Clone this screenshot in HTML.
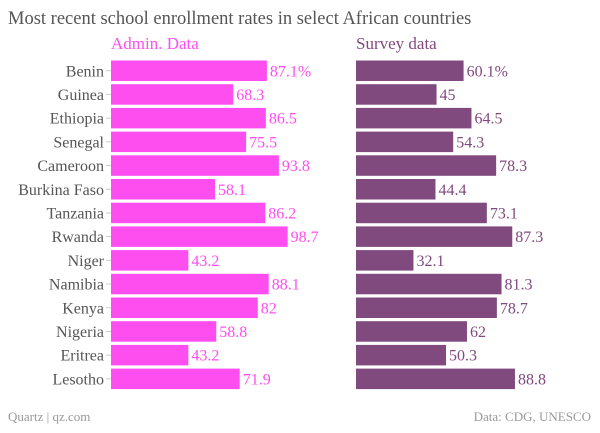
<!DOCTYPE html>
<html><head><meta charset="utf-8"><style>
body{margin:0;background:#fff;width:600px;height:428px;overflow:hidden;font-family:"Liberation Serif",serif}
</style></head><body>
<svg width="600" height="428" id="c">
<text x="8" y="24" font-size="18.5" fill="#555">Most recent school enrollment rates in select African countries</text>
<text x="111" y="49" font-size="17" fill="#ff4ef0">Admin. Data</text>
<text x="356" y="49" font-size="17" fill="#804a7e">Survey data</text>
<text x="8" y="421" font-size="13" fill="#999">Quartz | qz.com</text>
<text x="591" y="421" font-size="13" fill="#999" text-anchor="end">Data: CDG, UNESCO</text>
</svg>
<script>
const countries=["Benin","Guinea","Ethiopia","Senegal","Cameroon","Burkina Faso","Tanzania","Rwanda","Niger","Namibia","Kenya","Nigeria","Eritrea","Lesotho"];
const adminValues=[87.1,68.3,86.5,75.5,93.8,58.1,86.2,98.7,43.2,88.1,82,58.8,43.2,71.9];
const surveyValues=[60.1,45,64.5,54.3,78.3,44.4,73.1,87.3,32.1,81.3,78.7,62,50.3,88.8];
const svg=document.getElementById('c');const NS='http://www.w3.org/2000/svg';
const k=1.79;const y0=60.5,step=23.7,bh=20.5;
function xs(v){return v*k;}
function yr(i){return y0+i*step;}
function mk(t,a){const e=document.createElementNS(NS,t);for(const n in a)e.setAttribute(n,a[n]);svg.appendChild(e);return e;}
function fmt(v,i){return i===0?v+'%':String(v);}
countries.forEach((c,i)=>{
  const y=yr(i);
  const l=mk('text',{x:104,y:y+bh/2+5.5,'font-size':16,fill:'#555','text-anchor':'end'});l.textContent=c;
  
  
  const t=mk('line',{x1:106,x2:111,y1:y+bh/2,y2:y+bh/2,stroke:'#ccc'});
  
  
  const a=mk('rect',{x:111,y:y,width:xs(adminValues[i]),height:bh,fill:'#ff4ef0'});
  
  
  const av=mk('text',{x:111+xs(adminValues[i])+3,y:y+bh/2+5.5,'font-size':16,fill:'#ff4ef0'});av.textContent=fmt(adminValues[i],i);
  
  
  const s=mk('rect',{x:356,y:y,width:xs(surveyValues[i]),height:bh,fill:'#804a7e'});
  
  
  const sv=mk('text',{x:356+xs(surveyValues[i])+3,y:y+bh/2+5.5,'font-size':16,fill:'#804a7e'});sv.textContent=fmt(surveyValues[i],i);
  
  
});
</script>
</body></html>
